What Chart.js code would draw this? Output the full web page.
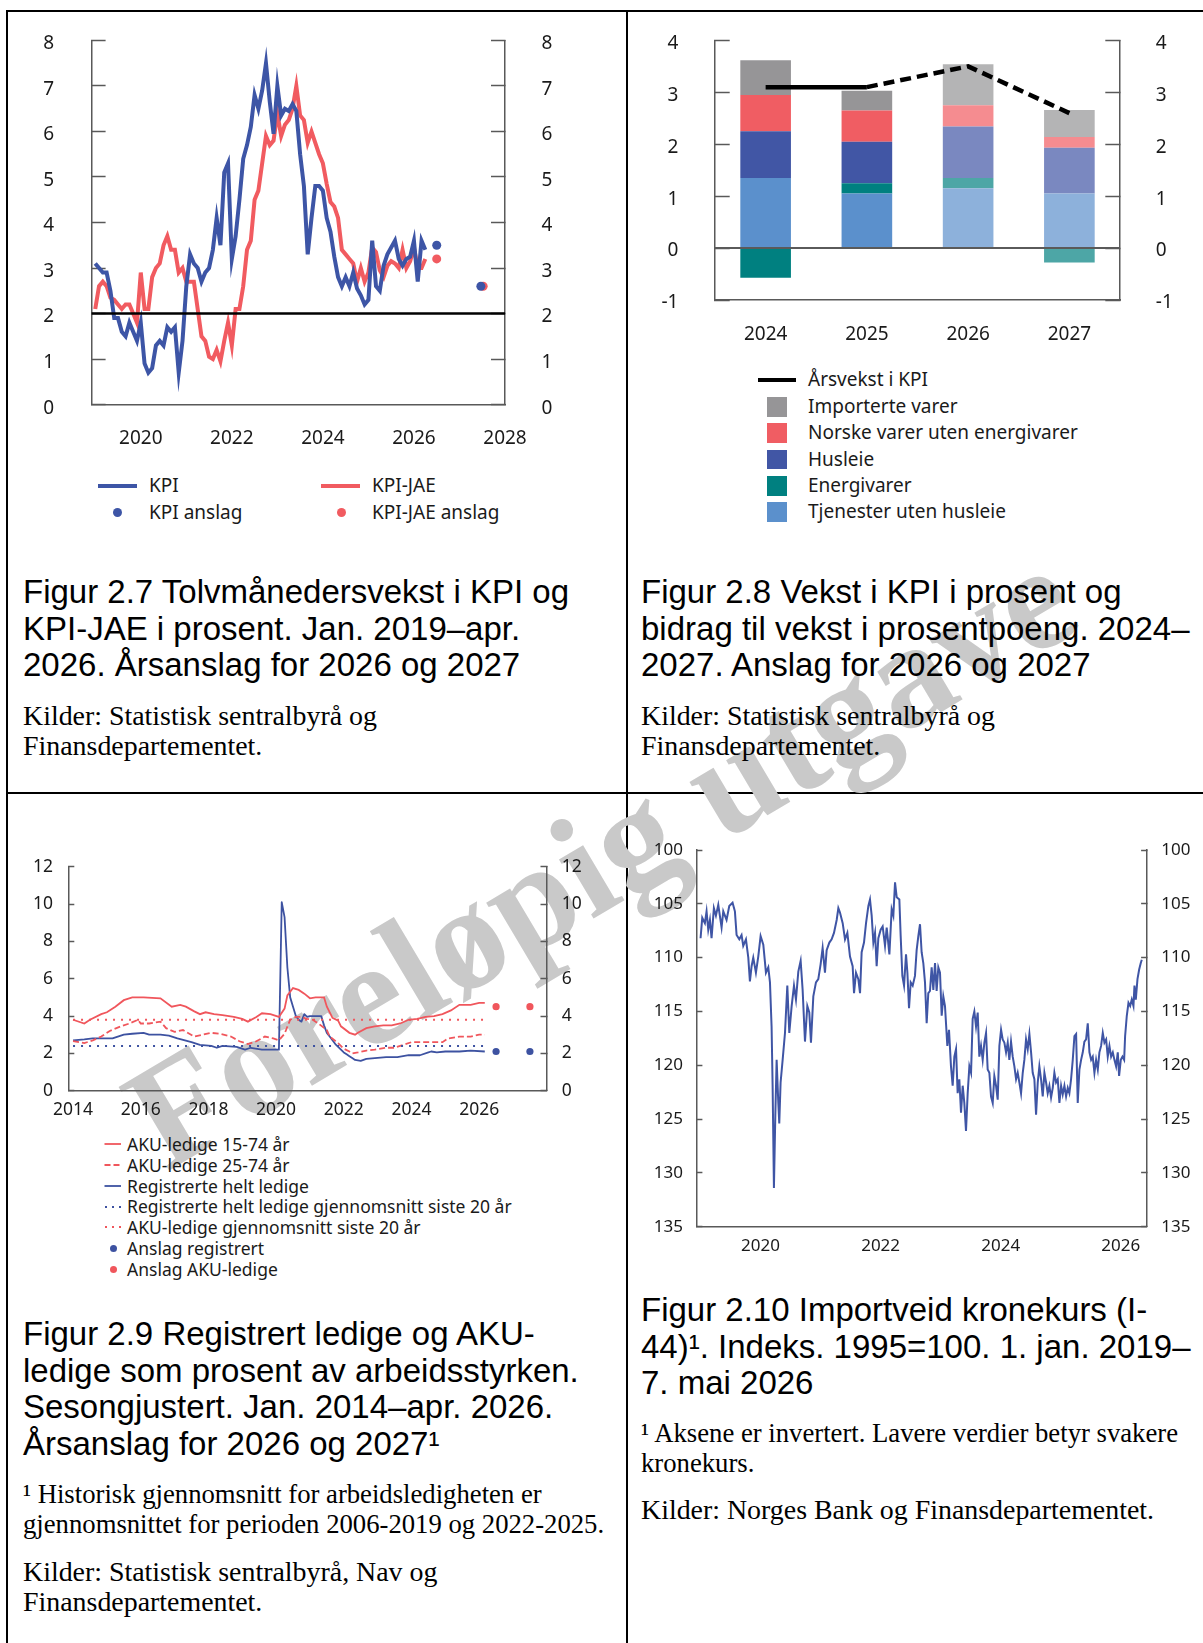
<!DOCTYPE html>
<html lang="no">
<head>
<meta charset="utf-8">
<title>Figur 2.7–2.10</title>
<script src="https://cdn.jsdelivr.net/npm/chart.js@4.4.1/dist/chart.umd.min.js"></script>
<style>
  html, body { margin: 0; padding: 0; background: #fff; }
  body { width: 1203px; height: 1643px; position: relative; overflow: hidden; }
  .abs { position: absolute; }
  .rule { position: absolute; background: #000; }
  .cap { position: absolute; font-family: 'Liberation Sans', Arial, sans-serif; font-size: 33px; line-height: 36.7px; color: #000; white-space: nowrap; }
  .src { position: absolute; font-family: 'Liberation Serif', 'Times New Roman', serif; font-size: 27.9px; line-height: 30.4px; color: #000; white-space: nowrap; }
  .src.note { font-size: 26.7px; }
  .wm { position: absolute; font-family: 'Liberation Serif', 'Times New Roman', serif; font-weight: bold; font-size: 149px; line-height: 149px; color: #c9c9c9; white-space: nowrap; transform: translate(-50%, -50%) rotate(-30.7deg); }
  canvas { position: absolute; }
  .leg { position: absolute; font-family: 'Noto Sans', sans-serif; font-size: 19px; line-height: 20px; color: #1a1a1a; white-space: nowrap; }
  .leg.small { font-size: 17.5px; }
  .dot { position: absolute; border-radius: 50%; }
</style>
</head>
<body>
<!-- tabellrammer -->
<div class="rule" style="left:6px;top:10px;width:1197px;height:2px"></div>
<div class="rule" style="left:6px;top:10px;width:2px;height:1633px"></div>
<div class="rule" style="left:626px;top:10px;width:2px;height:1633px"></div>
<div class="rule" style="left:6px;top:792px;width:1197px;height:2px"></div>

<div class="wm" style="left:600px;top:856px">Foreløpig utgave</div>

<!-- tekster -->
<div class="cap" style="left:23px;top:574px">Figur 2.7 Tolvmånedersvekst i KPI og<br>KPI-JAE i prosent. Jan. 2019–apr.<br>2026. Årsanslag for 2026 og 2027</div>
<div class="src" style="left:23px;top:701px">Kilder: Statistisk sentralbyrå og<br>Finansdepartementet.</div>

<div class="cap" style="left:641px;top:574px">Figur 2.8 Vekst i KPI i prosent og<br>bidrag til vekst i prosentpoeng. 2024–<br>2027. Anslag for 2026 og 2027</div>
<div class="src" style="left:641px;top:701px">Kilder: Statistisk sentralbyrå og<br>Finansdepartementet.</div>

<div class="cap" style="left:23px;top:1316px">Figur 2.9 Registrert ledige og AKU-<br>ledige som prosent av arbeidsstyrken.<br>Sesongjustert. Jan. 2014–apr. 2026.<br>Årsanslag for 2026 og 2027¹</div>
<div class="src note" style="left:23px;top:1479px">¹ Historisk gjennomsnitt for arbeidsledigheten er<br>gjennomsnittet for perioden 2006-2019 og 2022-2025.</div>
<div class="src" style="left:23px;top:1557px">Kilder: Statistisk sentralbyrå, Nav og<br>Finansdepartementet.</div>

<div class="cap" style="left:641px;top:1292px">Figur 2.10 Importveid kronekurs (I-<br>44)¹. Indeks. 1995=100. 1. jan. 2019–<br>7. mai 2026</div>
<div class="src note" style="left:641px;top:1418px">¹ Aksene er invertert. Lavere verdier betyr svakere<br>kronekurs.</div>
<div class="src" style="left:641px;top:1495px">Kilder: Norges Bank og Finansdepartementet.</div>

<!-- diagrammer -->
<canvas id="kpiChart" width="580" height="440" style="left:20px;top:20px"></canvas>
<canvas id="bidragChart" width="560" height="340" style="left:640px;top:20px"></canvas>
<canvas id="ledigChart" width="600" height="280" style="left:15px;top:850px"></canvas>
<canvas id="kursChart" width="560" height="440" style="left:640px;top:830px"></canvas>

<!-- forklaring figur 2.7 -->
<div class="abs" style="left:98px;top:483.7px;width:39px;height:4px;background:#3d55a6"></div>
<div class="leg" style="left:149px;top:475px">KPI</div>
<div class="abs" style="left:321px;top:483.7px;width:39px;height:4px;background:#f15b60"></div>
<div class="leg" style="left:372px;top:475px">KPI-JAE</div>
<div class="dot" style="left:112.5px;top:508px;width:9px;height:9px;background:#3d55a6"></div>
<div class="leg" style="left:149px;top:502px">KPI anslag</div>
<div class="dot" style="left:336.5px;top:508px;width:9px;height:9px;background:#f15b60"></div>
<div class="leg" style="left:372px;top:502px">KPI-JAE anslag</div>

<!-- forklaring figur 2.8 -->
<div class="abs" style="left:758px;top:377.8px;width:38px;height:4.5px;background:#000"></div>
<div class="leg" style="left:808px;top:369.4px">Årsvekst i KPI</div>
<div class="abs" style="left:767px;top:397.3px;width:19.5px;height:19.5px;background:#969597"></div>
<div class="leg" style="left:808px;top:396.4px">Importerte varer</div>
<div class="abs" style="left:767px;top:423.3px;width:19.5px;height:19.5px;background:#f05d63"></div>
<div class="leg" style="left:808px;top:422.4px">Norske varer uten energivarer</div>
<div class="abs" style="left:767px;top:449.9px;width:19.5px;height:19.5px;background:#4156a5"></div>
<div class="leg" style="left:808px;top:449px">Husleie</div>
<div class="abs" style="left:767px;top:476px;width:19.5px;height:19.5px;background:#008080"></div>
<div class="leg" style="left:808px;top:475.1px">Energivarer</div>
<div class="abs" style="left:767px;top:502.3px;width:19.5px;height:19.5px;background:#5b90cc"></div>
<div class="leg" style="left:808px;top:501.4px">Tjenester uten husleie</div>

<!-- forklaring figur 2.9 -->
<svg class="abs" style="left:104px;top:1141px" width="18" height="6"><line x1="0.5" y1="3" x2="17" y2="3" stroke="#f0565c" stroke-width="1.8"/></svg>
<div class="leg small" style="left:127px;top:1133.5px">AKU-ledige 15-74 år</div>
<svg class="abs" style="left:104px;top:1162px" width="18" height="6"><line x1="0.5" y1="3" x2="17" y2="3" stroke="#f0565c" stroke-width="1.8" stroke-dasharray="6 3"/></svg>
<div class="leg small" style="left:127px;top:1154.5px">AKU-ledige 25-74 år</div>
<svg class="abs" style="left:104px;top:1183px" width="18" height="6"><line x1="0.5" y1="3" x2="17" y2="3" stroke="#3d52a1" stroke-width="1.8"/></svg>
<div class="leg small" style="left:127px;top:1175.5px">Registrerte helt ledige</div>
<svg class="abs" style="left:104px;top:1203.7px" width="18" height="6"><line x1="1" y1="3" x2="17" y2="3" stroke="#3d52a1" stroke-width="2" stroke-dasharray="2 5"/></svg>
<div class="leg small" style="left:127px;top:1196.2px">Registrerte helt ledige gjennomsnitt siste 20 år</div>
<svg class="abs" style="left:104px;top:1224.4px" width="18" height="6"><line x1="1" y1="3" x2="17" y2="3" stroke="#f0565c" stroke-width="2" stroke-dasharray="2 5"/></svg>
<div class="leg small" style="left:127px;top:1216.9px">AKU-ledige gjennomsnitt siste 20 år</div>
<div class="dot" style="left:109.5px;top:1244.5px;width:7px;height:7px;background:#3d52a1"></div>
<div class="leg small" style="left:127px;top:1237.5px">Anslag registrert</div>
<div class="dot" style="left:109.5px;top:1265.5px;width:7px;height:7px;background:#f0565c"></div>
<div class="leg small" style="left:127px;top:1258.5px">Anslag AKU-ledige</div>

<script>
// ---------- Figur 2.7: tolvmånedersvekst i KPI og KPI-JAE ----------
const kpiStartAar = 2019; // januar 2019, månedlige tall
const kpi = [
  3.1, 3.0, 2.9, 2.9, 2.5, 1.9, 1.9, 1.6, 1.5, 1.8, 1.6, 1.4,
  1.8, 0.9, 0.7, 0.8, 1.3, 1.4, 1.3, 1.7, 1.6, 1.7, 0.7, 1.4,
  2.6, 3.3, 3.1, 3.0, 2.7, 2.9, 3.0, 3.4, 4.1, 3.5, 5.1, 5.3,
  3.2, 3.7, 4.5, 5.4, 5.7, 6.1, 6.8, 6.5, 6.9, 7.5, 6.65, 5.95,
  7.0, 6.35, 6.5, 6.45, 6.6, 6.45, 5.5, 4.8, 3.3, 4.1, 4.8, 4.8,
  4.7, 4.1, 3.8, 3.25, 2.8, 2.6, 2.8, 2.6, 2.9, 2.55, 2.4, 2.2,
  2.3, 3.6, 2.6, 2.5, 3.05, 3.3, 3.45, 3.6, 3.2, 3.05, 3.2, 3.25,
  3.6, 2.7, 3.6, 3.4
];
const kpiJae = [
  2.1, 2.6, 2.7, 2.6, 2.35, 2.3, 2.2, 2.1, 2.2, 2.2, 2.0, 1.8,
  2.9, 2.1, 2.1, 2.8, 3.0, 3.1, 3.5, 3.7, 3.4, 3.4, 2.9, 3.0,
  2.7, 2.7, 2.7, 2.1, 1.5, 1.4, 1.05, 1.0, 1.2, 0.95, 1.4, 1.8,
  1.3, 2.1, 2.1, 2.6, 3.4, 3.6, 4.5, 4.7, 5.3, 5.9, 5.7, 5.8,
  6.4, 5.9, 6.15, 6.25, 6.5, 7.0, 6.35, 6.25, 5.75, 6.0, 5.75, 5.5,
  5.3, 4.85, 4.45, 4.35, 4.1, 3.4, 3.3, 3.2, 3.1, 2.7, 3.0, 2.7,
  2.9, 3.45, 3.35, 2.95, 2.8, 3.05, 3.15, 3.1, 3.0, 3.4, 3.0, 3.15,
  3.45, 3.0, 3.0, 3.2
];
const kpiAnslagAar = [2026.5, 2027.47];
const kpiAnslag = [3.5, 2.6];
const kpiJaeAnslagAar = [2026.5, 2027.52];
const kpiJaeAnslag = [3.2, 2.6];
const inflasjonsmaal = 2;
const kpiAarTicks = [2020, 2022, 2024, 2026, 2028];
const kpiVerdiTicks = [0, 1, 2, 3, 4, 5, 6, 7, 8];

// ---------- Figur 2.8: bidrag til vekst i KPI ----------
const bidragAar = ['2024', '2025', '2026', '2027'];
const tjenester = [1.35, 1.05, 1.15, 1.05];
const energi = [-0.57, 0.2, 0.2, -0.28];
const husleie = [0.9, 0.8, 0.99, 0.88];
const norskeVarer = [0.7, 0.6, 0.41, 0.21];
const importerteVarer = [0.67, 0.38, 0.79, 0.52];
const aarsvekstKpi = [3.1, 3.1, 3.5, 2.6];
const bidragTicks = [-1, 0, 1, 2, 3, 4];

// ---------- Figur 2.9: ledighet ----------
const aku1574Dato = ['2014-01','2014-05','2014-07','2014-11','2015-01','2015-04','2015-07','2015-10','2016-02','2016-08',
  '2016-12','2017-03','2017-05','2017-08','2017-10','2017-12','2018-03','2018-06','2018-10','2019-01',
  '2019-03','2019-06','2019-08','2019-11','2020-02','2020-04','2020-05','2020-07','2020-09','2020-11',
  '2021-01','2021-03','2021-06','2021-07','2021-09','2021-11','2021-12','2022-03','2022-05','2022-06',
  '2022-09','2022-12','2023-03','2023-06','2023-09','2023-12','2024-03','2024-06','2024-09','2024-12',
  '2025-03','2025-06','2025-10','2026-01','2026-03'];
const aku1574 = [3.8, 3.6, 3.8, 4.1, 4.2, 4.5, 4.85, 5.0, 5.0, 4.95,
  4.5, 4.6, 4.5, 4.25, 4.1, 4.2, 4.1, 4.05, 3.95, 3.85,
  3.7, 3.95, 4.15, 4.1, 3.95, 4.4, 5.1, 5.5, 5.4, 5.2,
  4.95, 5.0, 5.0, 4.5, 3.9, 3.75, 3.45, 3.1, 3.0, 3.1,
  3.35, 3.45, 3.5, 3.5, 3.6, 3.8, 3.85, 3.95, 4.0, 4.1,
  4.3, 4.6, 4.6, 4.7, 4.7];

const aku2574Dato = ['2014-01','2014-05','2014-08','2014-11','2015-02','2015-06','2015-09','2015-12','2016-01','2016-04',
  '2016-08','2016-10','2017-01','2017-04','2017-08','2017-11','2018-02','2018-05','2018-09','2018-12',
  '2019-03','2019-06','2019-09','2019-12','2020-02','2020-04','2020-06','2020-08','2020-10','2020-12',
  '2021-02','2021-04','2021-07','2021-08','2021-11','2022-01','2022-03','2022-04','2022-06','2022-09',
  '2022-12','2023-04','2023-07','2023-10','2024-01','2024-12','2025-02','2025-06','2025-10','2026-01',
  '2026-03'];
const aku2574 = [2.65, 2.55, 2.7, 2.9, 3.2, 3.45, 3.6, 3.8, 3.6, 3.6,
  3.7, 3.35, 3.15, 3.25, 2.9, 3.0, 3.1, 3.05, 2.9, 2.65,
  2.5, 2.65, 2.9, 2.8, 2.7, 3.05, 3.8, 3.95, 3.95, 3.85,
  3.8, 3.6, 3.25, 2.9, 2.55, 2.25, 2.1, 2.0, 2.05, 2.15,
  2.2, 2.3, 2.3, 2.45, 2.6, 2.6, 2.8, 2.9, 2.9, 3.0,
  3.0];

const registrertDato = ['2014-01','2014-05','2014-08','2015-03','2015-07','2015-10','2016-02','2016-04','2016-08','2016-11',
  '2017-02','2017-07','2017-10','2018-02','2018-04','2018-06','2018-11','2019-02','2019-04','2019-08',
  '2020-02','2020-03','2020-04','2020-05','2020-06','2020-07','2020-08','2020-09','2020-10','2020-11',
  '2020-12','2021-01','2021-05','2021-06','2021-07','2021-08','2021-09','2021-10','2021-11','2021-12',
  '2022-01','2022-02','2022-03','2022-04','2022-05','2022-07','2022-09','2023-04','2023-08','2023-12',
  '2024-04','2024-07','2024-08','2024-10','2025-01','2025-06','2025-10','2026-03'];
const registrert = [2.7, 2.75, 2.8, 2.8, 3.0, 3.05, 3.1, 3.0, 3.0, 2.95,
  2.8, 2.6, 2.45, 2.4, 2.3, 2.4, 2.35, 2.2, 2.3, 2.2,
  2.2, 10.1, 9.3, 6.6, 5.0, 4.5, 4.0, 3.8, 3.7, 4.1,
  3.95, 4.0, 4.0, 3.5, 3.1, 2.9, 2.7, 2.5, 2.35, 2.2,
  2.05, 1.95, 1.85, 1.75, 1.65, 1.6, 1.7, 1.8, 1.8, 1.9,
  1.9, 2.05, 2.1, 2.05, 2.1, 2.1, 2.15, 2.1];

const snittPeriode = ['2014-01', '2026-03'];
const akuSnitt = 3.8;
const registrertSnitt = 2.4;
const ledigAnslagAar = [2026.5, 2027.5];
const registrertAnslag = [2.1, 2.1];
const akuAnslag = [4.5, 4.5];
const ledigAarTicks = [2014, 2016, 2018, 2020, 2022, 2024, 2026];
const ledigVerdiTicks = [0, 2, 4, 6, 8, 10, 12];

// ---------- Figur 2.10: importveid kronekurs (I-44), daglige tall avlest ----------
const kronekursTid = [
  2019.001, 2019.029, 2019.073, 2019.101, 2019.129, 2019.157, 2019.184, 2019.223, 2019.257, 2019.296,
  2019.351, 2019.379, 2019.434, 2019.479, 2019.534, 2019.573, 2019.601, 2019.646, 2019.684, 2019.712,
  2019.757, 2019.796, 2019.823, 2019.851, 2019.879, 2019.923, 2019.962, 2020.001, 2020.046, 2020.090,
  2020.129, 2020.157, 2020.184, 2020.201, 2020.223, 2020.246, 2020.268, 2020.296, 2020.312, 2020.334,
  2020.368, 2020.407, 2020.446, 2020.479, 2020.518, 2020.557, 2020.590, 2020.629, 2020.668, 2020.701,
  2020.740, 2020.779, 2020.812, 2020.840, 2020.879, 2020.923, 2020.962, 2021.001, 2021.034, 2021.073,
  2021.101, 2021.146, 2021.184, 2021.223, 2021.268, 2021.296, 2021.323, 2021.368, 2021.407, 2021.446,
  2021.490, 2021.534, 2021.557, 2021.590, 2021.629, 2021.657, 2021.684, 2021.723, 2021.757, 2021.796,
  2021.823, 2021.851, 2021.879, 2021.907, 2021.934, 2021.962, 2022.001, 2022.034, 2022.073, 2022.101,
  2022.146, 2022.184, 2022.212, 2022.240, 2022.268, 2022.312, 2022.334, 2022.362, 2022.390, 2022.423,
  2022.446, 2022.473, 2022.501, 2022.534,
  2022.572, 2022.600, 2022.628, 2022.656, 2022.683, 2022.711, 2022.739, 2022.767, 2022.794, 2022.822,
  2022.850, 2022.878, 2022.906, 2022.933, 2022.961, 2022.989,
  2023.017, 2023.044, 2023.072, 2023.111, 2023.139, 2023.172, 2023.200, 2023.228, 2023.256, 2023.283,
  2023.311, 2023.339, 2023.367, 2023.394, 2023.422, 2023.450, 2023.478, 2023.506, 2023.533, 2023.561,
  2023.589, 2023.617, 2023.644, 2023.672, 2023.700, 2023.728, 2023.756, 2023.783, 2023.811, 2023.839,
  2023.867, 2023.894, 2023.922, 2023.950, 2023.978,
  2024.006, 2024.033, 2024.061, 2024.089, 2024.117, 2024.144, 2024.172, 2024.200, 2024.228, 2024.256,
  2024.283, 2024.311, 2024.339, 2024.367, 2024.394, 2024.422, 2024.450, 2024.478, 2024.506, 2024.533,
  2024.561, 2024.589, 2024.617, 2024.644, 2024.672, 2024.700, 2024.728, 2024.756, 2024.783, 2024.811,
  2024.839, 2024.867, 2024.894, 2024.922, 2024.950, 2024.978,
  2025.006, 2025.033, 2025.061, 2025.089, 2025.117, 2025.144, 2025.172, 2025.200, 2025.228, 2025.256,
  2025.283, 2025.311, 2025.339, 2025.367, 2025.394, 2025.422, 2025.450, 2025.478, 2025.506, 2025.533,
  2025.561, 2025.589, 2025.617, 2025.644, 2025.672, 2025.700, 2025.728, 2025.756, 2025.783, 2025.811,
  2025.839, 2025.867, 2025.894, 2025.922, 2025.950, 2025.972,
  2026.000, 2026.028, 2026.056, 2026.072, 2026.100, 2026.128, 2026.156, 2026.183, 2026.211, 2026.228,
  2026.250, 2026.278, 2026.306, 2026.333, 2026.350
];
const kronekurs = [
  108.2, 106.3, 106.8, 105.7, 107.4, 106.5, 108.2, 105.4, 106.1, 105.1,
  107.2, 105.7, 106.5, 105.2, 104.9, 105.7, 107.9, 108.3, 107.9, 108.9,
  108.3, 110.0, 112.2, 110.8, 110.0, 111.4, 109.9, 108.0, 108.8, 111.4,
  110.9, 112.3, 116.4, 121.9, 131.4, 124.7, 119.5, 123.5, 125.4, 121.6,
  119.5, 117.0, 112.6, 117.0, 114.5, 112.6, 113.9, 111.3, 110.3, 113.0,
  117.8, 114.5, 115.1, 117.9, 113.6, 112.3, 112.0, 110.6, 109.1, 111.4,
  109.3, 108.6, 108.3, 107.7, 106.5, 105.4, 105.8, 106.8, 108.3, 107.7,
  109.9, 110.8, 113.3, 111.4, 112.0, 113.3, 109.5, 108.6, 106.8, 105.2,
  104.6, 106.1, 108.6, 107.7, 110.8, 108.2, 107.4, 107.1, 108.9, 107.2,
  109.7, 105.5, 106.1, 103.0, 104.4, 104.6, 108.0, 111.7, 112.6, 109.7,
  111.4, 114.7, 112.3, 112.6,
  111.7, 109.3, 108.0, 106.9, 109.5, 110.5, 112.3, 116.1, 113.3, 113.1,
  110.9, 113.0, 110.5, 113.1, 110.9, 111.4,
  115.4, 113.6, 114.5, 118.2, 116.7, 120.1, 121.9, 119.2, 118.5, 122.6,
  121.3, 124.4, 121.9, 123.5, 126.1, 122.6, 120.1, 120.7, 115.7, 115.0,
  116.4, 115.1, 119.2, 118.2, 119.5, 117.9, 117.0, 120.4, 120.7, 122.9,
  123.5, 121.0, 121.9, 123.2, 118.2,
  116.7, 117.6, 117.9, 118.8, 117.9, 119.5, 117.8, 119.2, 120.1, 121.3,
  120.7, 121.6, 122.6, 120.7, 119.5, 117.6, 118.5, 117.1, 118.8, 120.7,
  121.3, 124.6, 121.6, 120.1, 121.3, 122.9, 120.7, 121.6, 122.6, 121.9,
  123.0, 122.1, 120.7, 121.6, 121.3, 123.5,
  121.9, 122.7, 121.9, 122.9, 122.1, 122.6, 121.3, 119.5, 117.3, 117.1,
  123.5, 120.4, 119.5, 118.8, 117.8, 117.6, 116.1, 118.8, 119.5, 119.2,
  120.7, 119.5, 120.4, 118.8, 118.2, 117.0, 117.9, 117.6, 119.2, 118.2,
  119.2, 118.8, 119.5, 120.1, 118.8, 121.0,
  119.5, 119.2, 119.5, 117.3, 115.4, 114.2, 114.5, 113.9, 114.5, 112.6,
  113.9, 112.0, 111.1, 110.5, 110.2
];
const kursAarTicks = [2020, 2022, 2024, 2026];
const kursVerdiTicks = [100, 105, 110, 115, 120, 125, 130, 135];

// ---------- felles ----------
const blaa = '#3d55a6';
const roed = '#f15b60';
const akseFarge = '#595959';
const tekstFarge = '#1a1a1a';

Chart.defaults.font.family = "'Noto Sans', sans-serif";
Chart.defaults.color = tekstFarge;
Chart.defaults.animation = false;
Chart.defaults.plugins.legend.display = false;
Chart.defaults.plugins.tooltip.enabled = false;

const maaned = s => Number(s.slice(0, 4)) + (Number(s.slice(5, 7)) - 1) / 12;
const punkter = (tider, verdier) => verdier.map((v, i) => ({ x: tider[i], y: v }));

function sideAkse(position, min, max, ticks, o) {
  return {
    type: 'linear',
    position: position,
    min: min,
    max: max,
    reverse: !!o.reverse,
    stacked: !!o.stacked,
    afterBuildTicks: s => { s.ticks = ticks.map(v => ({ value: v })); },
    // fast bredde, og ingen ekstra luft over/under plottet
    afterFit: s => { s.width = o.width; s.paddingTop = 0; s.paddingBottom = 0; },
    grid: { drawOnChartArea: false, drawTicks: true, tickLength: -o.tick, tickColor: akseFarge, tickWidth: 1.5 },
    border: { color: akseFarge, width: 1.5 },
    ticks: { padding: o.gap + o.tick, labelOffset: o.shift || 0, font: { size: o.font }, callback: v => String(v) }
  };
}

function tidsAkse(min, max, ticks, o) {
  return {
    type: 'linear',
    min: min,
    max: max,
    afterBuildTicks: s => { s.ticks = ticks.map(v => ({ value: v })); },
    afterFit: s => { s.height = o.height; },
    grid: { display: false, drawTicks: false },
    border: { color: akseFarge, width: 1.5 },
    ticks: { padding: o.pad, font: { size: o.font }, maxRotation: 0, autoSkip: false, callback: v => String(v) }
  };
}

// horisontal referanselinje over hele plottet
function referanselinje(id, verdi, farge, bredde) {
  return {
    id: id,
    afterDatasetsDraw(chart) {
      const { ctx, chartArea, scales } = chart;
      const y = scales.y.getPixelForValue(verdi);
      ctx.save();
      ctx.strokeStyle = farge;
      ctx.lineWidth = bredde;
      ctx.beginPath();
      ctx.moveTo(chartArea.left, y);
      ctx.lineTo(chartArea.right, y);
      ctx.stroke();
      ctx.restore();
    }
  };
}

// Figur 2.7
new Chart(document.getElementById('kpiChart'), {
  type: 'line',
  data: {
    datasets: [
      { data: kpi.map((v, i) => ({ x: kpiStartAar + i / 12, y: v })), borderColor: blaa, borderWidth: 4, pointRadius: 0 },
      { data: kpiJae.map((v, i) => ({ x: kpiStartAar + i / 12, y: v })), borderColor: roed, borderWidth: 4, pointRadius: 0 },
      { data: punkter(kpiAnslagAar, kpiAnslag), showLine: false, pointRadius: 4.5, pointBackgroundColor: blaa, pointBorderWidth: 0 },
      { data: punkter(kpiJaeAnslagAar, kpiJaeAnslag), showLine: false, pointRadius: 4.5, pointBackgroundColor: roed, pointBorderWidth: 0 }
    ]
  },
  options: {
    responsive: false,
    devicePixelRatio: 1,
    layout: { padding: { top: 20.4, left: 0, right: 0, bottom: 0 } },
    scales: {
      x: tidsAkse(2018.92, 2028, kpiAarTicks, { height: 55.4, pad: 22.6, font: 19 }),
      y: sideAkse('left', 0, 8, kpiVerdiTicks, { width: 71.6, tick: 14, gap: 37.4, font: 19, shift: 3.5 }),
      y2: sideAkse('right', 0, 8, kpiVerdiTicks, { width: 95, tick: 14, gap: 36.6, font: 19, shift: 3.5 })
    }
  },
  plugins: [referanselinje('maal', inflasjonsmaal, '#000', 2.6)]
});

// Figur 2.8
const lys = ['#b4b4b5', '#f58c90', '#7a88c0', '#4da6a6', '#8db1db'];
const sterk = ['#969597', '#f05d63', '#4156a5', '#008080', '#5b90cc'];
const farger = k => [sterk[k], sterk[k], lys[k], lys[k]];
const stolpe = (data, k) => ({ type: 'bar', data: data, backgroundColor: farger(k), borderWidth: 0, order: 1, barPercentage: 0.5, categoryPercentage: 1 });

new Chart(document.getElementById('bidragChart'), {
  data: {
    labels: bidragAar,
    datasets: [
      stolpe(tjenester, 4),
      stolpe(energi, 3),
      stolpe(husleie, 2),
      stolpe(norskeVarer, 1),
      stolpe(importerteVarer, 0),
      {
        type: 'line', data: aarsvekstKpi, stack: 'linje', order: 0,
        borderColor: '#000', borderWidth: 4.5, pointRadius: 0, borderCapStyle: 'butt',
        segment: { borderDash: c => (c.p0DataIndex >= 1 ? [11, 6] : []) }
      }
    ]
  },
  options: {
    responsive: false,
    devicePixelRatio: 1,
    layout: { padding: { top: 20.4, left: 0, right: 0, bottom: 0 } },
    scales: {
      x: {
        type: 'category', stacked: true, offset: true,
        afterFit: s => { s.height = 60; },
        grid: { display: false, drawTicks: false },
        border: { color: akseFarge, width: 1.5 },
        ticks: { padding: 23.2, font: { size: 19 } }
      },
      y: sideAkse('left', -1, 4, bidragTicks, { width: 75, tick: 14.7, gap: 36.6, font: 19, stacked: true, shift: 3 }),
      y2: sideAkse('right', -1, 4, bidragTicks, { width: 80, tick: 14.7, gap: 35.8, font: 19, shift: 3 })
    }
  },
  plugins: [referanselinje('null', 0, '#5a5a5a', 2)]
});

// Figur 2.9
const ledigRoed = '#f0565c';
const ledigBlaa = '#3d52a1';
new Chart(document.getElementById('ledigChart'), {
  type: 'line',
  data: {
    datasets: [
      { data: punkter(snittPeriode.map(maaned), [akuSnitt, akuSnitt]), borderColor: ledigRoed, borderWidth: 2, borderDash: [2, 6], pointRadius: 0 },
      { data: punkter(snittPeriode.map(maaned), [registrertSnitt, registrertSnitt]), borderColor: ledigBlaa, borderWidth: 2, borderDash: [2, 6], pointRadius: 0 },
      { data: punkter(aku2574Dato.map(maaned), aku2574), borderColor: ledigRoed, borderWidth: 1.8, borderDash: [6, 3], pointRadius: 0 },
      { data: punkter(aku1574Dato.map(maaned), aku1574), borderColor: ledigRoed, borderWidth: 1.8, pointRadius: 0 },
      { data: punkter(registrertDato.map(maaned), registrert), borderColor: ledigBlaa, borderWidth: 1.8, borderJoinStyle: 'round', pointRadius: 0 },
      { data: punkter(ledigAnslagAar, akuAnslag), showLine: false, pointRadius: 3.6, pointBackgroundColor: ledigRoed, pointBorderWidth: 0 },
      { data: punkter(ledigAnslagAar, registrertAnslag), showLine: false, pointRadius: 3.6, pointBackgroundColor: ledigBlaa, pointBorderWidth: 0 }
    ]
  },
  options: {
    responsive: false,
    devicePixelRatio: 1,
    layout: { padding: { top: 16.7, left: 0, right: 0, bottom: 0 } },
    scales: {
      x: tidsAkse(2013.86, 2027.99, ledigAarTicks, { height: 39.3, pad: 8.8, font: 17.5 }),
      y: sideAkse('left', 0, 12, ledigVerdiTicks, { width: 53.3, tick: 6, gap: 15.3, font: 17.5 }),
      y2: sideAkse('right', 0, 12, ledigVerdiTicks, { width: 68.5, tick: 6, gap: 15.2, font: 17.5 })
    }
  }
});

// Figur 2.10
new Chart(document.getElementById('kursChart'), {
  type: 'line',
  data: {
    datasets: [
      { data: punkter(kronekursTid, kronekurs), borderColor: '#3f55a5', borderWidth: 2, pointRadius: 0 }
    ]
  },
  options: {
    responsive: false,
    devicePixelRatio: 1,
    layout: { padding: { top: 20, left: 0, right: 0, bottom: 0 } },
    scales: {
      x: tidsAkse(2018.94, 2026.43, kursAarTicks, { height: 43.3, pad: 9.1, font: 17 }),
      y: sideAkse('left', 100, 135, kursVerdiTicks, { width: 56.9, tick: 5.5, gap: 14, font: 17, reverse: true }),
      y2: sideAkse('right', 100, 135, kursVerdiTicks, { width: 53.4, tick: 5.5, gap: 14.7, font: 17, reverse: true })
    }
  }
});
</script>
</body>
</html>
